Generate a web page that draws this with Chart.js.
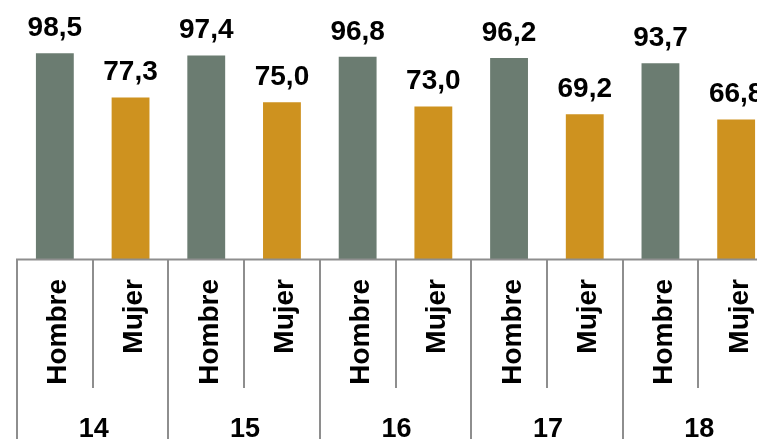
<!DOCTYPE html>
<html>
<head>
<meta charset="utf-8">
<script src="https://cdn.jsdelivr.net/npm/chart.js@4"></script>
<style>
  html, body { margin: 0; padding: 0; background: #fff; overflow: hidden; }
  #wrap { width: 775px; height: 439px; }
</style>
</head>
<body>
<div id="wrap"><canvas id="grafico" width="775" height="439"></canvas></div>
<script>
const edades = ['14', '15', '16', '17', '18'];
const sexos = ['Hombre', 'Mujer'];
const hombre = [98.5, 97.4, 96.8, 96.2, 93.7];
const mujer = [77.3, 75.0, 73.0, 69.2, 66.8];

const colorHombre = '#6b7c71';
const colorMujer = '#ce921f';
const colorLinea = '#8e8e8e';
const fuente = '"Liberation Sans", Arial, sans-serif';

// una barra por sexo y edad, en orden Hombre, Mujer
const etiquetas = [];
const valores = [];
const colores = [];
edades.forEach((e, i) => {
  etiquetas.push(sexos[0], sexos[1]);
  valores.push(hombre[i], mujer[i]);
  colores.push(colorHombre, colorMujer);
});

const ejeAgrupado = {
  id: 'ejeAgrupado',
  afterDatasetsDraw(chart) {
    const ctx = chart.ctx;
    const x = chart.scales.x;
    const area = chart.chartArea;
    const paso = (area.right - area.left) / etiquetas.length;
    const yEje = area.bottom + 0.5;

    // valores sobre las barras
    const meta = chart.getDatasetMeta(0);
    ctx.save();
    ctx.fillStyle = '#000';
    ctx.font = 'bold 28px ' + fuente;
    ctx.textAlign = 'center';
    ctx.textBaseline = 'alphabetic';
    meta.data.forEach((barra, i) => {
      ctx.fillText(valores[i].toFixed(1).replace('.', ','), barra.x, barra.y - 17);
    });
    ctx.restore();

    // lineas del eje
    ctx.save();
    ctx.strokeStyle = colorLinea;
    ctx.lineWidth = 2;
    ctx.beginPath();
    ctx.moveTo(area.left - 1, yEje);
    ctx.lineTo(chart.width, yEje);
    for (let i = 0; i <= etiquetas.length; i++) {
      const xs = Math.round(x.getPixelForValue(i) - paso / 2);
      ctx.moveTo(xs, yEje);
      ctx.lineTo(xs, i % 2 === 0 ? chart.height : 388);
    }
    ctx.stroke();
    ctx.restore();

    // etiquetas Hombre / Mujer giradas
    ctx.save();
    ctx.fillStyle = '#000';
    ctx.font = 'bold 28px ' + fuente;
    ctx.textAlign = 'right';
    ctx.textBaseline = 'alphabetic';
    etiquetas.forEach((t, i) => {
      const cx = x.getPixelForValue(i);
      ctx.save();
      ctx.translate(cx + 11.5, 279);
      ctx.rotate(-Math.PI / 2);
      ctx.fillText(t, 0, 0);
      ctx.restore();
    });
    ctx.restore();

    // edades
    ctx.save();
    ctx.fillStyle = '#000';
    ctx.font = 'bold 27px ' + fuente;
    ctx.textAlign = 'center';
    ctx.textBaseline = 'alphabetic';
    edades.forEach((e, i) => {
      const cx = (x.getPixelForValue(i * 2) + x.getPixelForValue(i * 2 + 1)) / 2;
      ctx.fillText(e, cx + 1, 437);
    });
    ctx.restore();
  }
};

new Chart(document.getElementById('grafico').getContext('2d'), {
  type: 'bar',
  data: {
    labels: etiquetas,
    datasets: [{
      data: valores,
      backgroundColor: colores,
      borderWidth: 0,
      barPercentage: 1,
      categoryPercentage: 0.5
    }]
  },
  options: {
    responsive: false,
    animation: false,
    layout: { padding: { left: 17, right: 1, top: 50, bottom: 180 } },
    plugins: { legend: { display: false }, tooltip: { enabled: false } },
    scales: {
      x: { display: false, offset: true, grid: { display: false } },
      y: { display: false, min: 0, max: 100 }
    }
  },
  plugins: [ejeAgrupado]
});
</script>
</body>
</html>
